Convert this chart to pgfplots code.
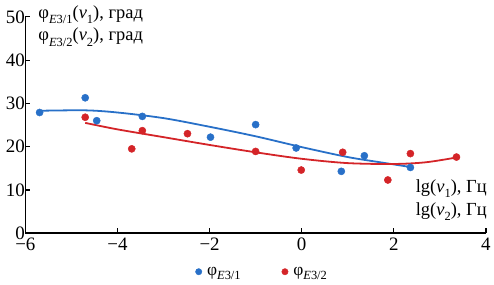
\documentclass[border=0pt]{standalone}
\usepackage{fontspec}
\setmainfont{Liberation Serif}
\usepackage{pgfplots}
\pgfplotsset{compat=1.18}
\definecolor{cblue}{RGB}{40,112,200}
\definecolor{cred}{RGB}{212,36,40}
\newcommand{\sbs}[1]{\raisebox{-0.28em}{\fontsize{12.5}{14}\selectfont #1}}
\newcommand{\sbl}[1]{\raisebox{-0.28em}{\fontsize{12.5}{14}\selectfont #1}}
\begin{document}
\begin{tikzpicture}
\begin{axis}[
  scale only axis,
  width=462pt, height=217pt,
  xmin=-6, xmax=4, ymin=0, ymax=50,
  axis lines=left,
  axis line style={line width=1.6pt, -},
  xtick={-6,-4,-2,0,2,4},
  xticklabels={−6,−4,−2,0,2,4},
  ytick={0,10,20,30,40,50},
  tick style={line width=1.2pt, black},
  major tick length=5pt,
  tick align=inside,
  ticklabel style={font=\fontsize{19}{21}\selectfont},
  /pgf/number format/assume math mode=true,
  xticklabel style={yshift=-1.5pt},
  yticklabel style={xshift=3pt},
  clip=false,
  legend style={draw=none, fill=none, at={(0.513,-0.178)}, anchor=center,
    font=\fontsize{17.5}{19}\selectfont, column sep=0pt,
    nodes={inner xsep=1pt, inner ysep=1pt}},
  legend columns=2,
  legend cell align=left,
  legend image code/.code={\fill[#1] (0.25cm,0cm) circle (3.2pt);},
]
\path (axis cs:-6.55,53.9) (axis cs:4.13,-11.75);
\addplot[only marks, mark=*, mark size=3.6pt, cblue, mark options={draw=cblue, fill=cblue}] coordinates {
(-5.69,27.9) (-4.70,31.3) (-4.45,26.0) (-3.46,27.0) (-1.98,22.2)
(-1.00,25.1) (-0.12,19.7) (0.86,14.3) (1.36,17.9) (2.36,15.2)};
\addlegendentry{\rule{4pt}{0pt}φ\sbl{\textit{E}3/1}\rule{40pt}{0pt}}
\addplot[only marks, mark=*, mark size=3.6pt, cred, mark options={draw=cred, fill=cred}] coordinates {
(-4.70,26.8) (-3.69,19.5) (-3.46,23.7) (-2.48,23.0) (-1.00,18.9)
(-0.01,14.6) (0.89,18.7) (1.87,12.3) (2.36,18.4) (3.36,17.6)};
\addlegendentry{\rule{4pt}{0pt}φ\sbl{\textit{E}3/2}}
\addplot[cblue, line width=1.8pt, smooth, forget plot] coordinates {
(-5.69,28.3) (-4.7,28.4) (-4.0,27.9) (-3,26.6) (-2,24.6) (-1,22.4)
(0,19.9) (1,17.6) (1.7,16.4) (2.36,15.3)};
\addplot[cred, line width=1.8pt, smooth, forget plot] coordinates {
(-4.7,25.5) (-4,24.0) (-3,22.2) (-2,20.4) (-1,18.7) (0,17.2)
(1,16.2) (2,16.0) (2.7,16.4) (3.36,17.5)};
\node[anchor=west, font=\fontsize{18.5}{20}\selectfont, inner sep=0pt] at (axis cs:-5.72,50.6)
  {φ\sbs{\textit{E}3/1}(\textit{ν}\sbs{1}), град};
\node[anchor=west, font=\fontsize{18.5}{20}\selectfont, inner sep=0pt] at (axis cs:-5.72,45.3)
  {φ\sbs{\textit{E}3/2}(\textit{ν}\sbs{2}), град};
\node[anchor=east, font=\fontsize{18.5}{20}\selectfont, inner sep=0pt] at (axis cs:4.02,10.4)
  {lg(\textit{ν}\sbs{1}), Гц};
\node[anchor=east, font=\fontsize{18.5}{20}\selectfont, inner sep=0pt] at (axis cs:4.02,5.0)
  {lg(\textit{ν}\sbs{2}), Гц};
\end{axis}
\end{tikzpicture}
\end{document}
